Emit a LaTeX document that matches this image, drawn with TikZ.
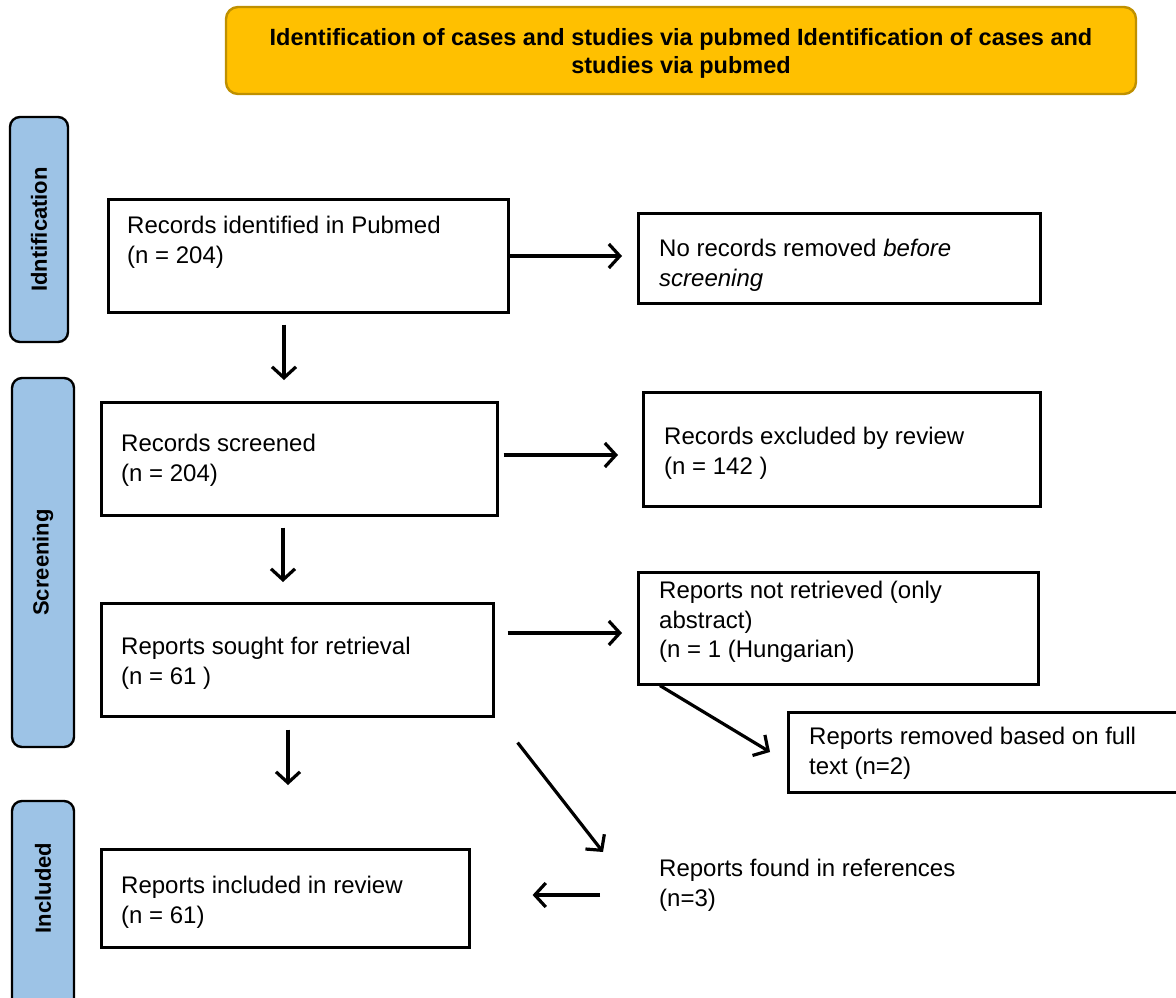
\documentclass[tikz,border=0pt]{standalone}
\usepackage{fontspec}
\setmainfont{Liberation Sans}
\usetikzlibrary{arrows.meta,calc}
\definecolor{bannerfill}{HTML}{FFC000}
\definecolor{bannerdraw}{HTML}{BF9000}
\definecolor{phasefill}{HTML}{9DC3E6}
\begin{document}
\begin{tikzpicture}[x=1pt,y=-1pt,
  box/.style={draw=black, line width=2.6pt, anchor=north west, inner sep=0pt, fill=white},
  txt/.style={anchor=north west, inner sep=0pt, align=left, font=\fontsize{24}{29.5}\selectfont},
  phase/.style={draw=black, line width=2.4pt, fill=phasefill, rounded corners=10pt, inner sep=0pt},
  phasetxt/.style={rotate=90, font=\bfseries\fontsize{22}{26}\selectfont, inner sep=0pt},
  arr/.style={line width=3.2pt, -{Straight Barb[length=11pt,width=24pt]}}]
\useasboundingbox (0,0) rectangle (1176,998);

% banner
\node[draw=bannerdraw, line width=2.4pt, fill=bannerfill, rounded corners=12pt,
  minimum width=910pt, minimum height=87pt, inner sep=0pt] (banner) at (681,50.5) {};
\node[align=center, inner sep=0pt, font=\bfseries\fontsize{23.5}{28}\selectfont] (bannert) at (681,53.5)
  {Identification of cases and studies via pubmed Identification of cases and\\studies via pubmed};

% phase labels
\node[phase, minimum width=58pt, minimum height=225pt] (p1) at (39,229.5) {};
\node[phasetxt] (p1t) at (p1.center) {Idntification};
\node[phase, minimum width=62pt, minimum height=369pt] (p2) at (43,562.5) {};
\node[phasetxt] (p2t) at (p2.center) {Screening};
\node[phase, minimum width=62pt, minimum height=220pt] (p3) at (43,911) {};
\node[phasetxt] (p3t) at (43,888) {Included};

% boxes
\node[box, minimum width=400pt, minimum height=113pt] (b1) at (107,198) {};
\node[txt] (b1t) at (127,216) {Records identified in Pubmed\\(n = 204)};
\node[box, minimum width=402pt, minimum height=90pt] (b2) at (637,212) {};
\node[txt] (b2t) at (659,239) {No records removed \textit{before}\\\textit{screening}};
\node[box, minimum width=396pt, minimum height=113pt] (b3) at (100,401) {};
\node[txt] (b3t) at (121,434) {Records screened\\(n = 204)};
\node[box, minimum width=397pt, minimum height=114pt] (b4) at (642,391) {};
\node[txt] (b4t) at (664,427) {Records excluded by review\\(n = 142 )};
\node[box, minimum width=392pt, minimum height=113pt] (b5) at (100,602) {};
\node[txt] (b5t) at (121,637) {Reports sought for retrieval\\(n = 61 )};
\node[box, minimum width=400pt, minimum height=112pt] (b6) at (637,571) {};
\node[txt] (b6t) at (659,581) {Reports not retrieved (only\\abstract)\\(n = 1 (Hungarian)};
\node[box, minimum width=395pt, minimum height=80pt] (b7) at (787,711) {};
\node[txt] (b7t) at (809,727) {Reports removed based on full\\text  (n=2)};
\node[box, minimum width=368pt, minimum height=98pt] (b8) at (100,848) {};
\node[txt] (b8t) at (121,876) {Reports included in review\\(n = 61)};
\node[txt] (b9) at (659,859) {Reports found in references\\(n=3)};

% arrows
\draw[arr] ($(b1.north east)+(-2,58)$) -- ($(b2.north west)+(-15,44)$);
\draw[arr] ($(b1.south west)+(177,11)$) -- ($(b3.north west)+(184,-21)$);
\draw[arr] ($(b3.north east)+(5,54)$) -- ($(b4.north west)+(-24,64)$);
\draw[arr] ($(b3.south west)+(183,11)$) -- ($(b5.north west)+(183,-20)$);
\draw[arr] ($(b5.north east)+(13,31)$) -- ($(b6.north west)+(-15,62)$);
\draw[arr] ($(b6.south west)+(23,0)$) -- ($(b7.north west)+(-17,41)$);
\draw[arr] ($(b5.south west)+(188,12)$) -- ($(b8.north west)+(188,-63)$);
\draw[arr] ($(b5.south east)+(23,25)$) -- ($(b9.north west)+(-56,-7)$);
\draw[arr] ($(b9.north west)+(-59,36)$) -- ($(b8.north east)+(62,47)$);
\end{tikzpicture}
\end{document}
